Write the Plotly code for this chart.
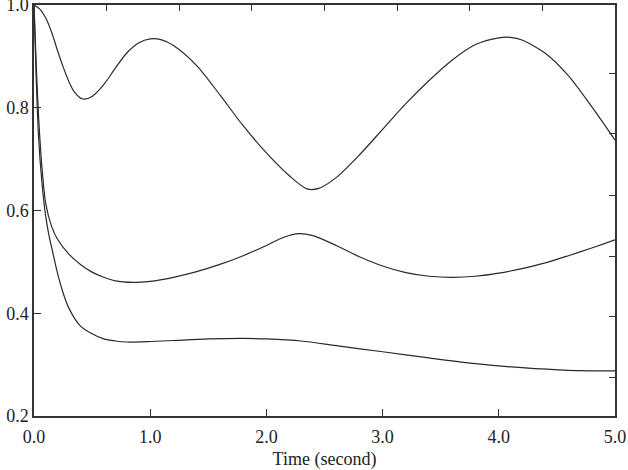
import plotly.graph_objects as go

# Upper curve
t_top = [0.0, 0.05, 0.1, 0.15, 0.2, 0.25, 0.3, 0.35, 0.42, 0.5, 0.6, 0.7, 0.8, 0.9, 1.0, 1.1, 1.2,
         1.4, 1.6, 1.8, 2.0, 2.2, 2.35, 2.45, 2.6, 2.8, 3.0, 3.2, 3.4, 3.6, 3.8, 4.0, 4.1, 4.2,
         4.4, 4.6, 4.8, 5.0]
v_top = [1.0, 0.992, 0.975, 0.948, 0.913, 0.88, 0.851, 0.83, 0.817, 0.822, 0.845, 0.877, 0.907, 0.926,
         0.934, 0.932, 0.921, 0.882, 0.825, 0.765, 0.712, 0.667, 0.642, 0.643, 0.664, 0.708, 0.758, 0.808,
         0.853, 0.893, 0.923, 0.936, 0.937, 0.932, 0.906, 0.862, 0.802, 0.737]

# Middle curve
t_mid = [0.0, 0.02, 0.04, 0.07, 0.1, 0.15, 0.2, 0.3, 0.4, 0.5, 0.6, 0.7, 0.85, 1.0, 1.2, 1.4, 1.6,
         1.8, 2.0, 2.15, 2.28, 2.4, 2.6, 2.8, 3.0, 3.2, 3.4, 3.6, 3.8, 4.0, 4.2, 4.4, 4.6, 4.8, 5.0]
v_mid = [1.0, 0.88, 0.78, 0.68, 0.615, 0.57, 0.545, 0.515, 0.495, 0.48, 0.47, 0.463, 0.46, 0.462,
         0.47, 0.481, 0.495, 0.512, 0.532, 0.548, 0.555, 0.551, 0.532, 0.51, 0.492, 0.479, 0.472,
         0.47, 0.472, 0.478, 0.487, 0.498, 0.512, 0.527, 0.543]

# Lower curve
t_low = [0.0, 0.02, 0.04, 0.07, 0.1, 0.13, 0.16, 0.2, 0.25, 0.3, 0.4, 0.5, 0.6, 0.7, 0.8, 1.0, 1.2,
         1.5, 1.8, 2.0, 2.3, 2.6, 3.0, 3.4, 3.8, 4.2, 4.6, 5.0]
v_low = [1.0, 0.85, 0.74, 0.65, 0.59, 0.55, 0.52, 0.48, 0.44, 0.41, 0.375, 0.36, 0.35, 0.346, 0.344,
         0.345, 0.347, 0.35, 0.351, 0.35, 0.346, 0.337, 0.325, 0.313, 0.302, 0.294, 0.289, 0.288]

x_ticks = [0.0, 1.0, 2.0, 3.0, 4.0, 5.0]
x_labels = ["0.0", "1.0", "2.0", "3.0", "4.0", "5.0"]
y_ticks = [0.2, 0.4, 0.6, 0.8, 1.0]
y_labels = ["0.2", "0.4", "0.6", "0.8", "1.0"]
top_ticks = [0.625, 1.25, 1.875, 2.5, 3.125, 3.75, 4.375]
right_ticks = [0.867, 0.749, 0.63, 0.511, 0.393, 0.274]

LINE = "#2a2a2a"
fig = go.Figure()
for t, v in [(t_top, v_top), (t_mid, v_mid), (t_low, v_low)]:
    fig.add_trace(go.Scatter(x=t, y=v, mode="lines",
                             line=dict(color=LINE, width=1.2, shape="spline", smoothing=0.8),
                             showlegend=False, hoverinfo="skip"))
fig.add_trace(go.Scatter(x=[None], y=[None], xaxis="x2", yaxis="y2", showlegend=False))

font = dict(family="Liberation Serif", size=18, color="#222")
fig.update_layout(
    width=628, height=470,
    margin=dict(l=34, r=13, t=5, b=54),
    paper_bgcolor="white", plot_bgcolor="white",
    font=font,
    xaxis=dict(range=[0, 5], tickvals=x_ticks, ticktext=x_labels, ticks="inside", ticklen=7,
               tickcolor="#333", showline=True, linecolor="#333", linewidth=1.5, showgrid=False,
               zeroline=False, automargin=False, ticklabelstandoff=4,
               title=dict(text="Time (second)", font=dict(size=18), standoff=6)),
    yaxis=dict(range=[0.2, 1.0], tickvals=y_ticks, ticktext=y_labels, ticks="inside", ticklen=7,
               tickcolor="#333", showline=True, linecolor="#333", linewidth=1.5, showgrid=False,
               zeroline=False, automargin=False, ticklabeloverflow="allow"),
    xaxis2=dict(range=[0, 5], overlaying="x", side="top", anchor="y", tickvals=top_ticks,
                showticklabels=False, ticks="inside", ticklen=6, tickcolor="#333", showline=True,
                linecolor="#333", linewidth=1.5, showgrid=False, zeroline=False),
    yaxis2=dict(range=[0.2, 1.0], overlaying="y", side="right", anchor="x", tickvals=right_ticks,
                showticklabels=False, ticks="inside", ticklen=6, tickcolor="#333", showline=True,
                linecolor="#333", linewidth=1.5, showgrid=False, zeroline=False),
)
fig.write_html("out.html")
